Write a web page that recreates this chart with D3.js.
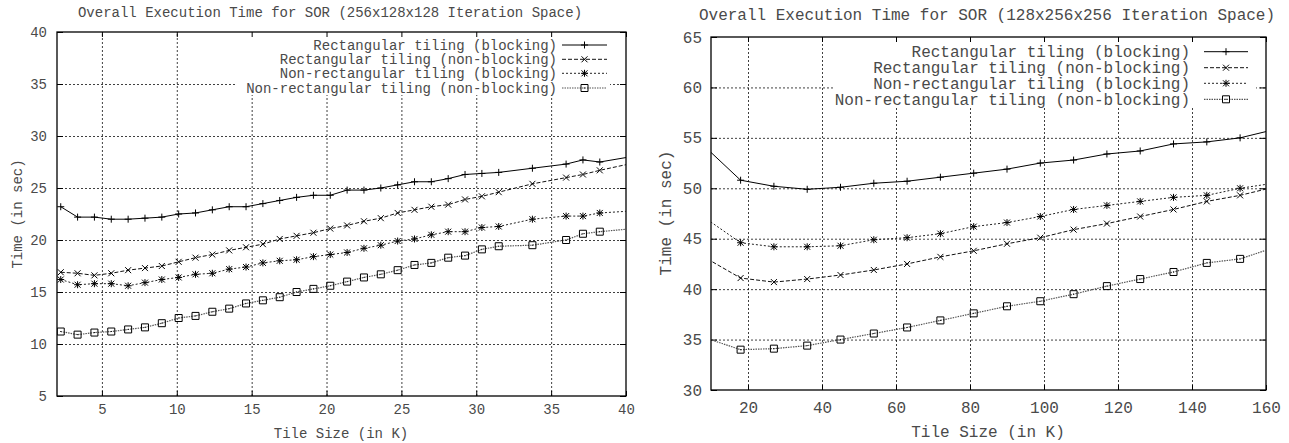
<!DOCTYPE html>
<html><head><meta charset="utf-8">
<script src="https://cdn.jsdelivr.net/npm/d3@7"></script>
<style>
body{margin:0;background:#fff}
svg{display:block}
text{font-family:"Liberation Mono","DejaVu Sans Mono",monospace;fill:#4a4a4a}
</style>
</head><body>
<svg id="c" width="1289" height="443"></svg>
<script>
// ---------- data ----------
const legendLabels = [
  "Rectangular tiling (blocking)",
  "Rectangular tiling (non-blocking)",
  "Non-rectangular tiling (blocking)",
  "Non-rectangular tiling (non-blocking)"
];
const leftTitle = "Overall Execution Time for SOR (256x128x128 Iteration Space)";
const rightTitle = "Overall Execution Time for SOR (128x256x256 Iteration Space)";
const xAxisTitle = "Tile Size (in K)";
const yAxisTitle = "Time (in sec)";

const leftXTicks = [5, 10, 15, 20, 25, 30, 35, 40];
const leftYTicks = [5, 10, 15, 20, 25, 30, 35, 40];
const rightXTicks = [20, 40, 60, 80, 100, 120, 140, 160];
const rightYTicks = [30, 35, 40, 45, 50, 55, 60, 65];

const leftTileSizes = [2.25, 3.375, 4.5, 5.625, 6.75, 7.875, 9, 10.125, 11.25, 12.375, 13.5, 14.625,
  15.75, 16.875, 18, 19.125, 20.25, 21.375, 22.5, 23.625, 24.75, 25.875, 27, 28.125, 29.25, 30.375,
  31.5, 33.75, 36, 37.125, 38.25, 40.5];
const leftRectBlocking = [23.2, 22.2, 22.2, 22.0, 22.0, 22.1, 22.2, 22.5, 22.6, 22.9, 23.2, 23.2,
  23.5, 23.8, 24.1, 24.3, 24.3, 24.8, 24.8, 25.0, 25.3, 25.6, 25.6, 25.9, 26.3, 26.4,
  26.5, 26.9, 27.3, 27.7, 27.5, 28.05];
const leftRectNonBlocking = [16.9, 16.8, 16.6, 16.8, 17.1, 17.3, 17.5, 17.9, 18.3, 18.6, 19.0, 19.3,
  19.6, 20.1, 20.4, 20.7, 21.1, 21.4, 21.8, 22.1, 22.6, 22.9, 23.2, 23.4, 23.9, 24.2,
  24.6, 25.4, 26.0, 26.3, 26.7, 27.4];
const leftNonRectBlocking = [16.2, 15.7, 15.8, 15.8, 15.6, 15.9, 16.2, 16.4, 16.7, 16.8, 17.2, 17.4,
  17.8, 18.0, 18.1, 18.4, 18.6, 18.8, 19.2, 19.5, 19.9, 20.1, 20.5, 20.8, 20.8, 21.2,
  21.3, 22.0, 22.3, 22.3, 22.6, 22.8];
const leftNonRectNonBlocking = [11.2, 10.9, 11.1, 11.2, 11.4, 11.6, 12.0, 12.5, 12.7, 13.1, 13.4, 13.9,
  14.2, 14.5, 15.0, 15.3, 15.6, 16.0, 16.4, 16.7, 17.1, 17.6, 17.8, 18.3, 18.5, 19.1,
  19.4, 19.5, 20.0, 20.6, 20.8, 21.1];

const rightTileSizes = [9, 18, 27, 36, 45, 54, 63, 72, 81, 90, 99, 108, 117, 126, 135, 144, 153, 162];
const rightRectBlocking = [53.9, 50.8, 50.2, 49.9, 50.1, 50.5, 50.7, 51.1, 51.5, 51.9, 52.5, 52.8, 53.4, 53.7, 54.4, 54.6, 55.0, 55.8];
const rightRectNonBlocking = [43.0, 41.1, 40.7, 41.0, 41.4, 41.9, 42.5, 43.2, 43.8, 44.5, 45.1, 45.9, 46.5, 47.2, 47.9, 48.7, 49.3, 50.1];
const rightNonRectBlocking = [46.9, 44.6, 44.2, 44.2, 44.3, 44.9, 45.1, 45.5, 46.2, 46.6, 47.2, 47.9, 48.3, 48.7, 49.1, 49.3, 50.0, 50.5];
const rightNonRectNonBlocking = [35.1, 34.0, 34.1, 34.4, 35.0, 35.6, 36.2, 36.9, 37.6, 38.3, 38.8, 39.5, 40.3, 41.0, 41.7, 42.6, 43.0, 44.1];

// ---------- styles ----------
const seriesStyles = [
  {stroke: "#000", dash: null, width: 1, marker: "plus"},
  {stroke: "#111", dash: "4,2", width: 1, marker: "cross"},
  {stroke: "#222", dash: "2,2", width: 1, marker: "star"},
  {stroke: "#555", dash: "1.5,1", width: 1.2, marker: "square"}
];

const svg = d3.select("#c");
svg.append("rect").attr("width", 1289).attr("height", 443).attr("fill", "#fff");

function markerPath(type, cx, cy) {
  const p = d3.path();
  if (type === "plus" || type === "star") {
    p.moveTo(cx - 3.5, cy); p.lineTo(cx + 3.5, cy);
    p.moveTo(cx, cy - 3.5); p.lineTo(cx, cy + 3.5);
  }
  if (type === "cross" || type === "star") {
    p.moveTo(cx - 3, cy - 3); p.lineTo(cx + 3, cy + 3);
    p.moveTo(cx - 3, cy + 3); p.lineTo(cx + 3, cy - 3);
  }
  if (type === "square") {
    p.rect(cx - 3.5, cy - 3.5, 7, 7);
    p.moveTo(cx - 0.5, cy); p.lineTo(cx + 0.5, cy);
  }
  return p.toString();
}

function drawChart(cfg, id) {
  const b = cfg.box;
  const x = d3.scaleLinear().domain(cfg.xDomain).range([b.l, b.r]);
  const y = d3.scaleLinear().domain(cfg.yDomain).range([b.b, b.t]);
  const g = svg.append("g");
  const fs = cfg.fs;

  g.append("clipPath").attr("id", "clip" + id).append("rect")
    .attr("x", b.l).attr("y", b.t).attr("width", b.r - b.l).attr("height", b.b - b.t);

  // grid (dotted) via d3 axes with full-length ticks
  const gridX = g.append("g").attr("class", "grid").attr("transform", `translate(0,${b.b})`)
    .call(d3.axisBottom(x).tickValues(cfg.xTicks.filter(v => v > cfg.xDomain[0] && v < cfg.xDomain[1]))
      .tickSize(-(b.b - b.t)).tickFormat(""));
  const gridY = g.append("g").attr("class", "grid").attr("transform", `translate(${b.l},0)`)
    .call(d3.axisLeft(y).tickValues(cfg.yTicks.filter(v => v > cfg.yDomain[0] && v < cfg.yDomain[1]))
      .tickSize(-(b.r - b.l)).tickFormat(""));
  [gridX, gridY].forEach(gg => {
    gg.select(".domain").remove();
    gg.selectAll("line").attr("stroke", "#000").attr("stroke-width", 1)
      .attr("stroke-dasharray", "2,2").attr("stroke-opacity", 0.75);
  });

  // legend opaque box
  const lg = cfg.legend;
  g.append("rect").attr("x", lg.box.x).attr("y", lg.box.y).attr("width", lg.box.w).attr("height", lg.box.h)
    .attr("fill", "#fff");

  // axes (ticks inward, mirrored)
  const ax = (axis, tx, ty) => {
    const a = g.append("g").attr("transform", `translate(${tx},${ty})`).call(axis);
    a.select(".domain").remove();
    a.selectAll("line").attr("stroke", "#000");
    a.selectAll("text").attr("font-size", fs).attr("fill", "#4a4a4a")
      .style("font-family", '"Liberation Mono","DejaVu Sans Mono",monospace');
    return a;
  };
  ax(d3.axisBottom(x).tickValues(cfg.xTicks).tickSize(-5).tickPadding(cfg.xPad), 0, b.b);
  ax(d3.axisTop(x).tickValues(cfg.xTicks).tickSize(-5).tickFormat(""), 0, b.t);
  ax(d3.axisLeft(y).tickValues(cfg.yTicks).tickSize(-6).tickPadding(cfg.yPad), b.l, 0);
  ax(d3.axisRight(y).tickValues(cfg.yTicks).tickSize(-6).tickFormat(""), b.r, 0);

  // frame
  g.append("rect").attr("x", b.l).attr("y", b.t).attr("width", b.r - b.l).attr("height", b.b - b.t)
    .attr("fill", "none").attr("stroke", "#000").attr("stroke-width", 1.3);

  // series
  const plot = g.append("g").attr("clip-path", `url(#clip${id})`);
  cfg.series.forEach((vals, i) => {
    const st = seriesStyles[i];
    const pts = cfg.xs.map((xv, j) => [xv, vals[j]]);
    plot.append("path").attr("d", d3.line().x(d => x(d[0])).y(d => y(d[1]))(pts))
      .attr("fill", "none").attr("stroke", st.stroke).attr("stroke-width", st.width)
      .attr("stroke-dasharray", st.dash);
    const inside = pts.filter(d => d[0] >= cfg.xDomain[0] && d[0] <= cfg.xDomain[1]);
    plot.append("path").attr("d", inside.map(d => markerPath(st.marker, x(d[0]), y(d[1]))).join(""))
      .attr("fill", "none").attr("stroke", "#000").attr("stroke-width", 1);
  });

  // legend content
  legendLabels.forEach((lab, i) => {
    const st = seriesStyles[i];
    const ry = lg.rows[i];
    g.append("text").attr("x", lg.textRight).attr("y", ry).attr("dy", "0.35em")
      .attr("text-anchor", "end").attr("font-size", fs).text(lab);
    g.append("line").attr("x1", lg.s1).attr("x2", lg.s2).attr("y1", ry).attr("y2", ry)
      .attr("stroke", st.stroke).attr("stroke-width", st.width).attr("stroke-dasharray", st.dash);
    g.append("path").attr("d", markerPath(st.marker, (lg.s1 + lg.s2) / 2, ry))
      .attr("fill", "none").attr("stroke", "#000");
  });

  // titles
  g.append("text").attr("x", cfg.title.x).attr("y", cfg.title.y).attr("dy", "0.35em")
    .attr("text-anchor", "middle").attr("font-size", fs).text(cfg.titleText);
  g.append("text").attr("x", cfg.xTitle.x).attr("y", cfg.xTitle.y).attr("dy", "0.35em")
    .attr("text-anchor", "middle").attr("font-size", fs).text(xAxisTitle);
  g.append("text").attr("transform", `translate(${cfg.yTitle.x},${cfg.yTitle.y}) rotate(-90)`)
    .attr("dy", "0.35em").attr("text-anchor", "middle").attr("font-size", fs).text(yAxisTitle);
}

drawChart({
  box: {l: 57, r: 626, t: 32, b: 396},
  xDomain: [2, 40], yDomain: [5, 40],
  xTicks: leftXTicks, yTicks: leftYTicks,
  xs: leftTileSizes,
  series: [leftRectBlocking, leftRectNonBlocking, leftNonRectBlocking, leftNonRectNonBlocking],
  fs: 14, xPad: 8, yPad: 10,
  titleText: leftTitle,
  title: {x: 330, y: 12}, xTitle: {x: 341, y: 433}, yTitle: {x: 17, y: 214},
  legend: {textRight: 557, s1: 562, s2: 607, rows: [45, 59.3, 73.3, 88],
           box: {x: 236, y: 33, w: 374, h: 62}}
}, "L");

drawChart({
  box: {l: 711, r: 1266, t: 37, b: 390},
  xDomain: [10, 160], yDomain: [30, 65],
  xTicks: rightXTicks, yTicks: rightYTicks,
  xs: rightTileSizes,
  series: [rightRectBlocking, rightRectNonBlocking, rightNonRectBlocking, rightNonRectNonBlocking],
  fs: 16, xPad: 12, yPad: 9,
  titleText: rightTitle,
  title: {x: 987, y: 14}, xTitle: {x: 988, y: 431}, yTitle: {x: 665, y: 213},
  legend: {textRight: 1190, s1: 1204, s2: 1248, rows: [51.7, 67.7, 83.3, 99.3],
           box: {x: 834, y: 38, w: 422, h: 69}}
}, "R");
</script>
</body></html>
